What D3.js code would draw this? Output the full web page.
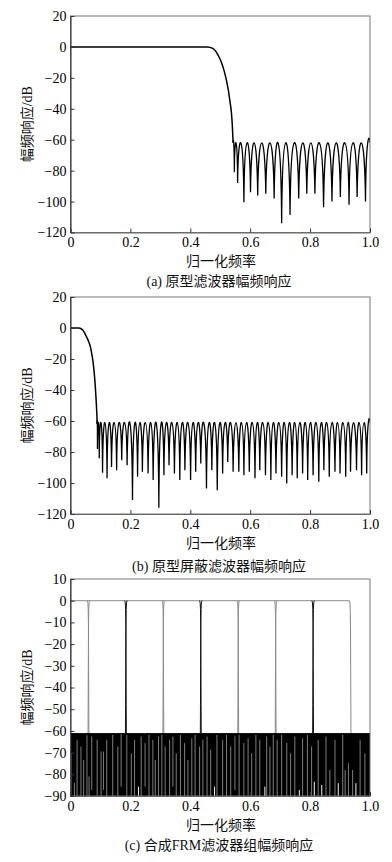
<!DOCTYPE html>
<html>
<head>
<meta charset="utf-8">
<script src="https://cdn.jsdelivr.net/npm/d3@7/dist/d3.min.js"></script>
<style>
body{margin:0;background:#fff;}
svg{display:block;background:#fff;}
.lbl{font-family:"Liberation Serif","Noto Sans CJK SC",serif;font-size:14px;fill:#111;}
</style>
</head>
<body>
<svg id="chart" width="392" height="862"></svg>
<script>
// ---- tick values / labels
var freqTicks = [0, 0.2, 0.4, 0.6, 0.8, 1.0];
var freqTickLabels = ["0", "0.2", "0.4", "0.6", "0.8", "1.0"];
var dbTicksAB = [20, 0, -20, -40, -60, -80, -100, -120];
var dbTickLabelsAB = ["20", "0", "\u221220", "\u221240", "\u221260", "\u221280", "\u2212100", "\u2212120"];
var dbTicksC = [10, 0, -10, -20, -30, -40, -50, -60, -70, -80, -90];
var dbTickLabelsC = ["10", "0", "\u221210", "\u221220", "\u221230", "\u221240", "\u221250", "\u221260", "\u221270", "\u221280", "\u221290"];

var xLabel = "归一化频率";
var yLabel = "幅频响应/dB";
var captions = ["(a) 原型滤波器幅频响应", "(b) 原型屏蔽滤波器幅频响应", "(c) 合成FRM滤波器组幅频响应"];

// ---- (a) prototype filter: passband + transition [freq, dB]
var aPass = [[0, 0], [0.455, 0], [0.466, -0.3], [0.477, -1.2], [0.488, -3.7], [0.496, -6.5], [0.504, -10],
  [0.513, -15.5], [0.521, -21.9], [0.527, -28], [0.532, -34.7], [0.537, -42], [0.540, -49.7], [0.543, -62]];
// stopband nulls
var aNullF = [0.547, 0.558, 0.579, 0.601, 0.625, 0.652, 0.680, 0.705, 0.733, 0.762, 0.789, 0.816, 0.845, 0.873,
  0.901, 0.930, 0.957, 0.985];
var aNullDb = [-81, -88, -100.5, -94, -96, -95, -98, -114, -108.6, -98, -95, -95, -103.7, -100, -97, -102, -97, -100];
var aPeakDb = -62;

// ---- (b) prototype masking filter
var bPass = [[0, 0], [0.028, 0], [0.034, -0.3], [0.040, -1.2], [0.046, -2.8], [0.053, -5.5], [0.059, -8],
  [0.064, -10.5], [0.070, -15.5], [0.076, -23], [0.081, -33], [0.085, -44.6], [0.088, -56], [0.089, -62]];
var bNullF = [0.090, 0.096, 0.107, 0.122, 0.137, 0.154, 0.171, 0.189, 0.207, 0.224, 0.240, 0.259, 0.276, 0.295,
  0.312, 0.329, 0.347, 0.365, 0.382, 0.401, 0.418, 0.435, 0.454, 0.472, 0.490, 0.508, 0.525, 0.543, 0.562,
  0.579, 0.597, 0.616, 0.632, 0.651, 0.669, 0.686, 0.705, 0.722, 0.740, 0.757, 0.775, 0.792, 0.810, 0.829,
  0.846, 0.864, 0.883, 0.900, 0.919, 0.935, 0.955, 0.972, 0.989];
var bNullDb = [-78, -84, -93.4, -97, -89.6, -91.7, -85.3, -88.5, -111, -96, -92.8, -93.9, -98, -116, -95,
  -88.5, -93.9, -98, -91.7, -98, -92.8, -87.4, -103.5, -91.7, -104.6, -93.9, -86.4, -92.8, -92.8, -95,
  -92.8, -97, -91.7, -95, -98, -93.9, -96, -100.3, -95, -97, -93.9, -98, -95, -99.2, -91.7, -96, -92.8,
  -93.9, -96, -92.8, -91.7, -95, -93.9];
var bPeakDb = -61;

// ---- (c) FRM filter bank
var cEdges = [0.06, 0.185, 0.31, 0.435, 0.56, 0.685, 0.81, 0.935];
var cEdgeTone = ["g", "k", "g", "k", "g", "g", "k", "g"];
// falling edge shape [freq offset, dB]
var cEdgeProfile = [[-0.004, 0], [-0.002, -1], [-0.001, -4], [0, -12], [0.0005, -30], [0.001, -48], [0.0015, -61]];
var cStopTop = -61, cStopFloor = -90;
// light streaks inside the stopband [freq, top dB, bottom dB]
var cGrayStreaks = [[0.002, -70.3, -90], [0.013, -84, -90], [0.022, -64.1, -90], [0.035, -67.2, -90], [0.044, -73.4, -90],
  [0.055, -62, -90], [0.062, -81, -90], [0.071, -62.6, -87.2], [0.089, -64.1, -90], [0.102, -69.5, -90],
  [0.110, -69.5, -87.2], [0.121, -64.1, -90], [0.141, -61.8, -90], [0.158, -67.2, -90], [0.169, -61.5, -85.7],
  [0.188, -61.8, -90], [0.203, -70.3, -90], [0.214, -64.1, -90], [0.236, -62.6, -90], [0.249, -65.6, -85.7],
  [0.262, -61.8, -90], [0.275, -64.1, -90], [0.283, -73.4, -90], [0.294, -62.6, -90], [0.305, -61.8, -90],
  [0.316, -67.2, -90], [0.331, -64.1, -90], [0.342, -62.6, -85.7], [0.353, -70.3, -90], [0.367, -61.8, -90],
  [0.381, -65.6, -90], [0.392, -73.4, -90], [0.405, -63.4, -90], [0.416, -61.8, -90], [0.431, -67.2, -90],
  [0.442, -64.1, -90], [0.456, -62.6, -90], [0.468, -68.7, -90], [0.489, -61.8, -90], [0.508, -64.1, -90],
  [0.521, -61.8, -90], [0.535, -67.2, -90], [0.549, -62.6, -87.2], [0.563, -61.8, -90], [0.579, -65.6, -90],
  [0.593, -63.4, -90], [0.605, -70.3, -90], [0.619, -61.8, -90], [0.632, -64.1, -90], [0.655, -62.6, -90],
  [0.666, -67.2, -90], [0.677, -61.8, -90], [0.690, -64.1, -90], [0.705, -61.8, -90], [0.722, -65.6, -90],
  [0.735, -70.3, -90], [0.749, -62.6, -90], [0.775, -63.4, -90], [0.791, -61.8, -90], [0.805, -67.2, -90],
  [0.827, -64.1, -90], [0.853, -62.6, -90], [0.866, -78, -90], [0.883, -64.1, -90], [0.909, -61.8, -90],
  [0.917, -78, -90], [0.928, -74.9, -90], [0.942, -78, -90], [0.967, -64.1, -90], [0.983, -70.3, -90]];
var cWhiteStreaks = [[0.227, -85.7, -90], [0.481, -85.7, -90], [0.649, -85.7, -90], [0.764, -87.2, -90],
  [0.814, -83.4, -90], [0.839, -84.9, -90], [0.894, -84.1, -90], [0.953, -84.1, -90]];

// ---- layout
var svg = d3.select("#chart");
var plotLeft = 70.5, plotRight = 370;
var panels = [
  {top: 16, bottom: 232.5, domain: [-120, 20], ticks: dbTicksAB, labels: dbTickLabelsAB, capDy: 49},
  {top: 297, bottom: 514, domain: [-120, 20], ticks: dbTicksAB, labels: dbTickLabelsAB, capDy: 52},
  {top: 579, bottom: 796, domain: [-90, 10], ticks: dbTicksC, labels: dbTickLabelsC, capDy: 49}
];

var x = d3.scaleLinear().domain([0, 1]).range([plotLeft, plotRight]);

function lobes(y, start, nullF, nullDb, peakDb, endF) {
  // arches between consecutive nulls, topped at the ripple peak level
  var nodes = [start];
  nullF.forEach(function(f, i){ nodes.push([f, nullDb[i]]); });
  nodes.push([endF, peakDb]);
  var yp = y(peakDb);
  var p = d3.path();
  p.moveTo(x(nodes[0][0]), y(nodes[0][1]));
  for (var i = 1; i < nodes.length; i++) {
    var xa = x(nodes[i-1][0]), ya = y(nodes[i-1][1]);
    var xb = x(nodes[i][0]), yb = y(nodes[i][1]);
    var w = xb - xa;
    var c = (yp - 0.125 * (ya + yb)) / 0.75;
    p.bezierCurveTo(xa + 0.1 * w, c, xb - 0.1 * w, c, xb, yb);
  }
  return p.toString();
}

function styleAxis(a, domainColor) {
  a.attr("font-family", "'Liberation Serif','Times New Roman',serif").attr("font-size", 14);
  a.selectAll(".tick text").attr("fill", "#000");
  a.selectAll(".tick line").attr("stroke", "#333");
  a.select(".domain").attr("stroke", domainColor);
}

panels.forEach(function(pn, k){
  var y = d3.scaleLinear().domain(pn.domain).range([pn.bottom, pn.top]);
  pn.y = y;
  var g = svg.append("g");

  svg.append("clipPath").attr("id", "clip" + k)
    .append("rect").attr("x", plotLeft).attr("y", pn.top)
    .attr("width", plotRight - plotLeft).attr("height", pn.bottom - pn.top);
  pn.plot = g.append("g").attr("clip-path", "url(#clip" + k + ")");

  // box
  g.append("rect")
    .attr("x", plotLeft).attr("y", pn.top)
    .attr("width", plotRight - plotLeft).attr("height", pn.bottom - pn.top)
    .attr("fill", "none").attr("stroke", "#777").attr("stroke-width", 1);

  g.append("g")
    .attr("transform", "translate(0," + pn.bottom + ")")
    .call(d3.axisBottom(x).tickValues(freqTicks)
      .tickFormat(function(d, i){ return freqTickLabels[i]; })
      .tickSizeInner(-4).tickSizeOuter(0).tickPadding(5))
    .call(styleAxis, "#666");

  g.append("g")
    .attr("transform", "translate(" + plotLeft + ",0)")
    .call(d3.axisLeft(y).tickValues(pn.ticks)
      .tickFormat(function(d, i){ return pn.labels[i]; })
      .tickSizeInner(-4).tickSizeOuter(0).tickPadding(4))
    .call(styleAxis, "#222");

  g.append("text").attr("class", "lbl")
    .attr("x", 221).attr("y", pn.bottom + 29)
    .attr("text-anchor", "middle").attr("dominant-baseline", "central")
    .text(xLabel);

  g.append("text").attr("class", "lbl")
    .attr("transform", "translate(27," + ((pn.top + pn.bottom) / 2) + ") rotate(-90)")
    .attr("text-anchor", "middle").attr("dominant-baseline", "central")
    .text(yLabel);

  g.append("text").attr("class", "lbl")
    .attr("x", 219).attr("y", pn.bottom + pn.capDy)
    .attr("text-anchor", "middle").attr("dominant-baseline", "central")
    .text(captions[k]);
});

// ---- (a) and (b) responses
var passLine = d3.line().curve(d3.curveMonotoneX);

[[aPass, aNullF, aNullDb, aPeakDb], [bPass, bNullF, bNullDb, bPeakDb]].forEach(function(s, k){
  var y = panels[k].y;
  passLine.x(function(d){ return x(d[0]); }).y(function(d){ return y(d[1]); });
  panels[k].plot.append("path")
    .attr("d", passLine(s[0]))
    .attr("fill", "none").attr("stroke", "#000").attr("stroke-width", 1.5);
  panels[k].plot.append("path")
    .attr("d", lobes(y, s[0][s[0].length - 1], s[1], s[2], s[3], 1.0))
    .attr("fill", "none").attr("stroke", "#000").attr("stroke-width", 1.3);
});

// ---- (c) filter bank
var pc = panels[2], yc = pc.y;
var tone = d3.scaleOrdinal().domain(["g", "k"]).range(["#8a8a8a", "#111"]);
var edgeLine = d3.line().x(function(d){ return x(d[0]); }).y(function(d){ return yc(d[1]); });

// 0 dB passband line
pc.plot.append("path")
  .attr("d", edgeLine([[0, 0], [cEdges[cEdges.length - 1] + cEdgeProfile[0][0], 0]]))
  .attr("fill", "none").attr("stroke", "#8a8a8a").attr("stroke-width", 1);

cEdges.forEach(function(e, i){
  var falling = cEdgeProfile.map(function(p){ return [e + p[0], p[1]]; });
  var rising = cEdgeProfile.map(function(p){ return [e - p[0], p[1]]; });
  var sides = i < cEdges.length - 1 ? [rising, falling] : [falling];
  sides.forEach(function(pts){
    pc.plot.append("path")
      .attr("d", edgeLine(pts))
      .attr("fill", "none").attr("stroke", tone(cEdgeTone[i])).attr("stroke-width", 1);
  });
});

// dense stopband ripple of all channels
pc.plot.append("rect")
  .attr("x", x(0)).attr("width", x(1) - x(0))
  .attr("y", yc(cStopTop)).attr("height", yc(cStopFloor) - yc(cStopTop))
  .attr("fill", "#000");

pc.plot.selectAll("line.gs").data(cGrayStreaks).enter().append("line")
  .attr("class", "gs")
  .attr("x1", function(d){ return x(d[0]); }).attr("x2", function(d){ return x(d[0]); })
  .attr("y1", function(d){ return yc(d[1]); }).attr("y2", function(d){ return yc(d[2]); })
  .attr("stroke", "#8c8c8c").attr("stroke-width", 0.9);

pc.plot.selectAll("line.ws").data(cWhiteStreaks).enter().append("line")
  .attr("class", "ws")
  .attr("x1", function(d){ return x(d[0]); }).attr("x2", function(d){ return x(d[0]); })
  .attr("y1", function(d){ return yc(d[1]); }).attr("y2", function(d){ return yc(d[2]); })
  .attr("stroke", "#f4f4f4").attr("stroke-width", 1);
</script>
</body>
</html>
